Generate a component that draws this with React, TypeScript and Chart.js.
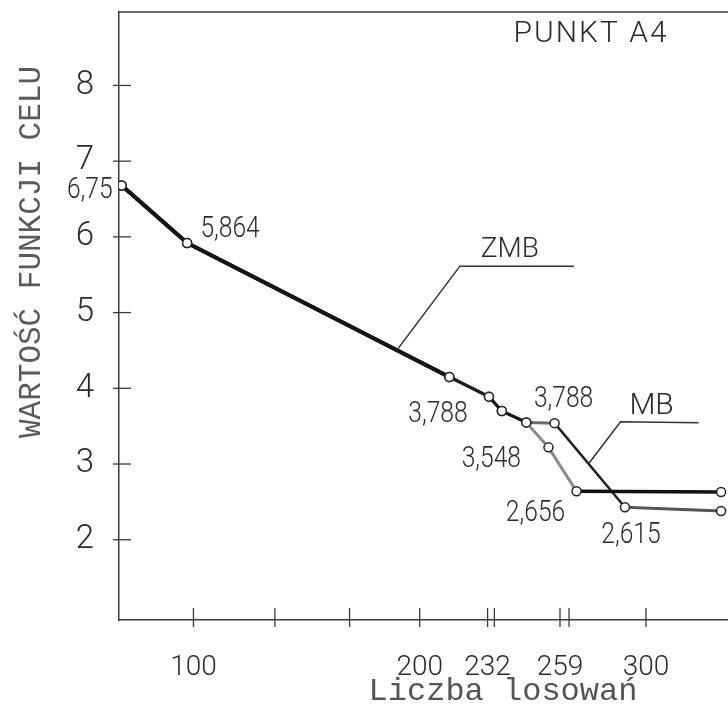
import React, { useEffect, useRef } from 'react';
import { Chart, registerables } from 'chart.js';

Chart.register(...registerables);

// ---- data ----
const zmbX = [68.3, 97.2, 213.1, 230.6, 236.3, 247.1, 256.9, 269.3, 333.2];
const zmbY = [6.68, 5.92, 4.15, 3.89, 3.7, 3.55, 3.22, 2.64, 2.63];
const mbX = [68.3, 97.2, 213.1, 230.6, 236.3, 247.1, 259.6, 290.7, 333.2];
const mbY = [6.68, 5.92, 4.15, 3.89, 3.7, 3.55, 3.54, 2.43, 2.38];

const yTicks = [2, 3, 4, 5, 6, 7, 8];
const yTickLabels = ['2', '3', '4', '5', '6', '7', '8'];
const xTicks = [100, 136, 169, 200, 230, 233, 262, 266, 300];
const xTickLabels = ['100', '', '', '200', '232', '', '259', '', '300'];

const pointLabelSeries = ['zmb', 'zmb', 'zmb', 'zmb', 'mb', 'zmb', 'mb'];
const pointLabelIndex = [0, 1, 3, 5, 6, 7, 7];
const pointLabelText = ['6,75', '5,864', '3,788', '3,548', '3,788', '2,656', '2,615'];

const titleText = 'PUNKT A4';
const xTitle = 'Liczba losowań';
const yTitle = 'WARTOŚĆ FUNKCJI CELU';
const seriesNames = ['ZMB', 'MB'];

// ---- layout / style (not data) ----
const pointLabelOffsets: [number, number][] = [
  [-32, 2], [43, -17], [-51, 15], [-35, 34], [9, -27], [-41, 19], [6, 25],
];
const SANS = 'Roboto, "DejaVu Sans", sans-serif';
const MONO = '"Liberation Mono", "DejaVu Sans Mono", monospace';
const INK = '#2b2b2b';

function drawText(ctx: CanvasRenderingContext2D, text: string, cx: number, cy: number,
  family: string, size: number, weight: string, color: string, sx = 1, capRatio = 0.71, spacing = 0) {
  ctx.save();
  ctx.font = `${weight} ${size}px ${family}`;
  (ctx as any).letterSpacing = `${spacing}px`;
  ctx.fillStyle = color;
  ctx.textAlign = 'center';
  ctx.textBaseline = 'alphabetic';
  ctx.translate(cx, cy + (capRatio * size) / 2);
  ctx.scale(sx, 1);
  ctx.fillText(text, 0, 0);
  ctx.restore();
}

const zeroPad = (s: any) => {
  s.paddingTop = 0;
  s.paddingBottom = 0;
  s.paddingLeft = 0;
  s.paddingRight = 0;
};

const decor = {
  id: 'decor',
  beforeDatasetsDraw(chart: any) {
    const { ctx, chartArea: a, scales } = chart;
    ctx.save();
    ctx.strokeStyle = '#3a3a3a';
    ctx.lineWidth = 1.5;
    ctx.beginPath();
    ctx.moveTo(a.left, a.top);
    ctx.lineTo(a.right, a.top);
    ctx.lineTo(a.right, a.bottom);
    ctx.stroke();
    ctx.lineWidth = 1.3;
    scales.y.ticks.forEach((_t: any, i: number) => {
      const y = scales.y.getPixelForTick(i);
      ctx.beginPath();
      ctx.moveTo(a.left - 6, y);
      ctx.lineTo(a.left + 12, y);
      ctx.stroke();
    });
    scales.x.ticks.forEach((_t: any, i: number) => {
      const x = scales.x.getPixelForTick(i);
      ctx.beginPath();
      ctx.moveTo(x, a.bottom - 12);
      ctx.lineTo(x, a.bottom + 7);
      ctx.stroke();
    });
    ctx.restore();
  },
  afterDraw(chart: any) {
    const { ctx } = chart;
    const metas = { zmb: chart.getDatasetMeta(0), mb: chart.getDatasetMeta(1) } as any;
    pointLabelText.forEach((t, i) => {
      const el = metas[pointLabelSeries[i]].data[pointLabelIndex[i]];
      const [dx, dy] = pointLabelOffsets[i];
      drawText(ctx, t, el.x + dx, el.y + dy, SANS, 30, '300', INK, 0.82);
    });
    const lerp = (p: any, q: any, f: number) => ({ x: p.x + (q.x - p.x) * f, y: p.y + (q.y - p.y) * f });
    const zA = lerp(metas.zmb.data[1], metas.zmb.data[2], 0.8);
    const mA = lerp(metas.mb.data[6], metas.mb.data[7], 0.483);
    ctx.save();
    ctx.strokeStyle = '#333';
    ctx.lineWidth = 1.5;
    ctx.beginPath();
    ctx.moveTo(zA.x, zA.y);
    ctx.lineTo(zA.x + 63, zA.y - 84);
    ctx.lineTo(zA.x + 177, zA.y - 84);
    ctx.moveTo(mA.x, mA.y);
    ctx.lineTo(mA.x + 32, mA.y - 42);
    ctx.lineTo(mA.x + 110, mA.y - 41);
    ctx.stroke();
    ctx.restore();
    drawText(ctx, seriesNames[0], zA.x + 113, zA.y - 103, SANS, 28, '300', INK);
    drawText(ctx, seriesNames[1], mA.x + 63, mA.y - 60, SANS, 30, '300', INK);
    drawText(ctx, titleText, 591, 31, SANS, 30, '300', INK, 1, 0.71, 2);
    drawText(ctx, xTitle, 503, 690, MONO, 32, 'normal', '#555', 1, 0.6);
    ctx.save();
    ctx.translate(31, 252);
    ctx.rotate(-Math.PI / 2);
    drawText(ctx, yTitle, 0, 0, MONO, 31, 'normal', '#5a5a5a', 1, 0.6);
    ctx.restore();
  },
};

export default function App() {
  const ref = useRef<HTMLCanvasElement | null>(null);
  useEffect(() => {
    if (!ref.current) return;
    const zmbSeg = ['#151515', '#151515', '#1c1c1c', '#1c1c1c', '#1c1c1c', '#8a8a8a', '#8a8a8a', '#111'];
    const zmbW = [4, 4, 3, 3, 3, 3, 3, 3.5];
    const mbSeg = ['#151515', '#151515', '#1c1c1c', '#1c1c1c', '#1c1c1c', '#6a6a6a', '#222', '#555'];
    const mbW = [4, 4, 3, 3, 3, 3, 2.5, 3];
    const chart = new Chart(ref.current, {
      type: 'line',
      data: {
        datasets: [
          {
            label: seriesNames[0],
            data: zmbX.map((x, i) => ({ x, y: zmbY[i] })),
            borderColor: '#151515',
            borderWidth: 3,
            pointRadius: 4.5,
            pointBackgroundColor: '#fff',
            pointBorderColor: '#222',
            pointBorderWidth: 1.5,
            segment: {
              borderColor: (c: any) => zmbSeg[c.p0DataIndex],
              borderWidth: (c: any) => zmbW[c.p0DataIndex],
            },
          } as any,
          {
            label: seriesNames[1],
            data: mbX.map((x, i) => ({ x, y: mbY[i] })),
            borderColor: '#222',
            borderWidth: 3,
            pointRadius: 4.5,
            pointBackgroundColor: '#fff',
            pointBorderColor: '#222',
            pointBorderWidth: 1.5,
            segment: {
              borderColor: (c: any) => mbSeg[c.p0DataIndex],
              borderWidth: (c: any) => mbW[c.p0DataIndex],
            },
          } as any,
        ],
      },
      options: {
        animation: false,
        responsive: false,
        devicePixelRatio: 1,
        layout: { padding: { top: 12, right: 0, left: 0, bottom: 0 } },
        plugins: { legend: { display: false }, tooltip: { enabled: false } },
        scales: {
          x: {
            type: 'linear',
            min: 67.1,
            max: 338.9,
            grid: { display: false },
            border: { display: true, color: '#3a3a3a', width: 1.5 },
            afterBuildTicks: (s: any) => { s.ticks = xTicks.map((v) => ({ value: v })); },
            afterFit: (s: any) => { s.height = 87; zeroPad(s); },
            ticks: {
              autoSkip: false,
              maxRotation: 0,
              padding: 23,
              color: INK,
              font: { family: SANS, size: 28, weight: '300' as any },
              callback: (v: any) => xTickLabels[xTicks.indexOf(v)] ?? '',
            },
          },
          y: {
            type: 'linear',
            min: 0.94,
            max: 8.97,
            grid: { display: false },
            border: { display: true, color: '#3a3a3a', width: 1.5 },
            afterBuildTicks: (s: any) => { s.ticks = yTicks.map((v) => ({ value: v })); },
            afterFit: (s: any) => { s.width = 119; zeroPad(s); },
            ticks: {
              autoSkip: false,
              padding: 17,
              color: INK,
              font: { family: SANS, size: 33, weight: '300' as any },
              callback: (v: any) => yTickLabels[yTicks.indexOf(v)] ?? '',
            },
          },
        },
      },
      plugins: [decor],
    });
    return () => chart.destroy();
  }, []);
  return (
    <div style={{ position: 'fixed', left: 0, top: 0, width: 728, height: 707, overflow: 'hidden', background: '#fff' }}>
      <canvas ref={ref} width={740} height={707} style={{ display: 'block' }} />
    </div>
  );
}
